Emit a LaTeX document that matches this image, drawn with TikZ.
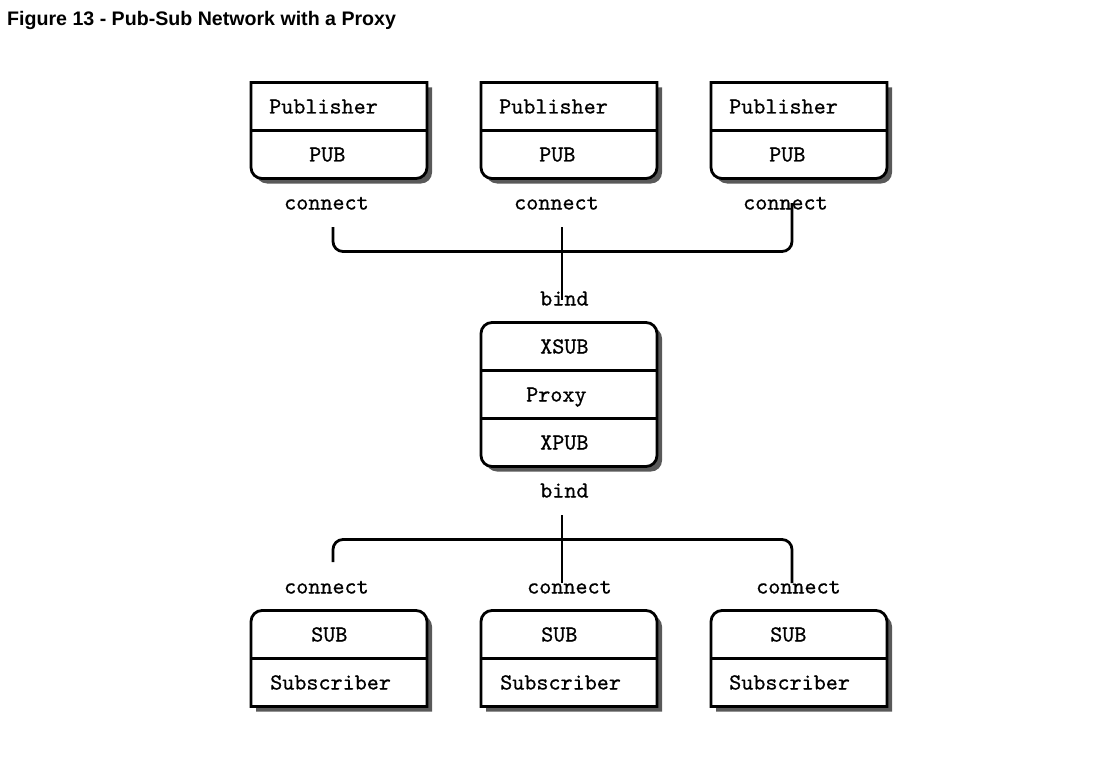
\documentclass[tikz,border=0pt]{standalone}
\usepackage{fontspec}
\setmainfont{Liberation Sans}
\newfontfamily\codefont{lmmono10-regular.otf}[RawFeature={embolden=0.7}]
\usetikzlibrary{positioning}
\tikzstyle{Frame} = [draw, line width=2.8pt, fill=white,
  preaction={fill=black!65, transform canvas={shift={(5pt,-5pt)}}}]
\tikzstyle{Text}  = [font=\codefont\fontsize{23pt}{27pt}\selectfont, inner sep=0pt, anchor=base west]
\tikzstyle{Wire}  = [draw, line width=2.8pt, rounded corners=10pt]

\begin{document}
\begin{tikzpicture}[x=1pt, y=-1pt]
    \useasboundingbox (0,0) rectangle (1115,770);
    \node[anchor=base west, inner sep=0pt, font=\bfseries\fontsize{19.6pt}{23pt}\selectfont]
      (title) at (7,26) {Figure 13 - Pub-Sub Network with a Proxy};
    % publishers
    \draw[Frame] (251,82.5) -- (427,82.5) [rounded corners=11pt] -- (427,178.5) -- (251,178.5) [sharp corners] -- cycle (251,130.5) -- (427,130.5);
    \draw[Frame] (481,82.5) -- (657,82.5) [rounded corners=11pt] -- (657,178.5) -- (481,178.5) [sharp corners] -- cycle (481,130.5) -- (657,130.5);
    \draw[Frame] (711,82.5) -- (887,82.5) [rounded corners=11pt] -- (887,178.5) -- (711,178.5) [sharp corners] -- cycle (711,130.5) -- (887,130.5);
    \node[Text] (pub1name) at (269,113.5) {Publisher};
    \node[Text] (pub2name) at (499,113.5) {Publisher};
    \node[Text] (pub3name) at (729,113.5) {Publisher};
    \node[Text] (pub1sock) at (309,161.5) {PUB};
    \node[Text] (pub2sock) at (539,161.5) {PUB};
    \node[Text] (pub3sock) at (769,161.5) {PUB};
    \node[Text] (pub1conn) at (284,209.5) {connect};
    \node[Text] (pub2conn) at (514,209.5) {connect};
    \node[Text] (pub3conn) at (743,209.5) {connect};
    % proxy
    \node[Text] (proxybind1) at (540,305.5) {bind};
    \draw[Frame, rounded corners=11pt] (481,322.5) rectangle (657,466.5);
    \draw[line width=2.8pt] (481,370.5) -- (657,370.5) (481,418.5) -- (657,418.5);
    \node[Text] (xsub)  at (540,353.5) {XSUB};
    \node[Text] (proxy) at (526,401.5) {Proxy};
    \node[Text] (xpub)  at (540,449.5) {XPUB};
    \node[Text] (proxybind2) at (540,497.5) {bind};
    % subscribers
    \node[Text] (sub1conn) at (284,593.5) {connect};
    \node[Text] (sub2conn) at (527,593.5) {connect};
    \node[Text] (sub3conn) at (756,593.5) {connect};
    \draw[Frame] (251,706.5) [rounded corners=11pt] -- (251,610.5) -- (427,610.5) [sharp corners] -- (427,706.5) -- cycle (251,658.5) -- (427,658.5);
    \draw[Frame] (481,706.5) [rounded corners=11pt] -- (481,610.5) -- (657,610.5) [sharp corners] -- (657,706.5) -- cycle (481,658.5) -- (657,658.5);
    \draw[Frame] (711,706.5) [rounded corners=11pt] -- (711,610.5) -- (887,610.5) [sharp corners] -- (887,706.5) -- cycle (711,658.5) -- (887,658.5);
    \node[Text] (sub1sock) at (311,641.5) {SUB};
    \node[Text] (sub2sock) at (541,641.5) {SUB};
    \node[Text] (sub3sock) at (770,641.5) {SUB};
    \node[Text] (sub1name) at (270,689.5) {Subscriber};
    \node[Text] (sub2name) at (500,689.5) {Subscriber};
    \node[Text] (sub3name) at (729,689.5) {Subscriber};
    % connectors
    \coordinate (pubtap1) at (333,227);
    \coordinate (pubtap2) at (562,227);
    \coordinate (pubtap3) at (792,203);
    \coordinate (pubbus)  at (562,251.5);
    \coordinate (xsubtap) at (562,300);
    \coordinate (xpubtap) at (562,515);
    \coordinate (subbus)  at (562,539.5);
    \coordinate (subtap1) at (333,562);
    \coordinate (subtap2) at (562,583);
    \coordinate (subtap3) at (792,583);
    \draw[Wire] (pubtap1) |- (pubbus) -| (pubtap3);
    \draw[Wire] (pubtap2) -- (xsubtap);
    \draw[Wire] (subtap1) |- (subbus) -| (subtap3);
    \draw[Wire] (xpubtap) -- (subtap2);
  \end{tikzpicture}
\end{document}
